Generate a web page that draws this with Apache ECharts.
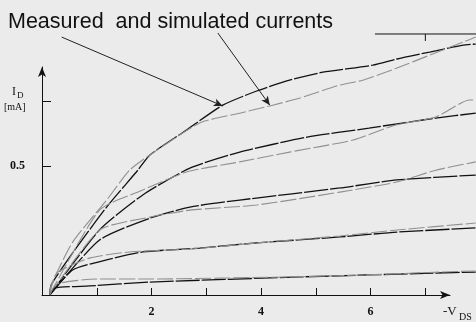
<!DOCTYPE html>
<html>
<head>
<meta charset="utf-8">
<script src="https://cdn.jsdelivr.net/npm/echarts@6/dist/echarts.min.js"></script>
<style>
html,body{margin:0;padding:0;background:#ebebeb;}
#c{width:476px;height:322px;}
</style>
</head>
<body>
<div id="c"></div>
<script>
// Measured (black) and simulated (gray) drain currents, [ -V_DS (V), I_D (mA) ]
const measured1 = [[0.14,0],[0.17,0.04],[0.56,0.163],[1.18,0.341],[1.75,0.484],[1.97,0.543],[2.64,0.64],[3.3,0.736],[3.92,0.791],[4.52,0.833],[5.13,0.864],[6.04,0.891],[6.48,0.915],[7.08,0.942],[7.69,0.969],[7.92,0.973]];
const simulated1 = [[0.14,0],[0.17,0.04],[0.56,0.205],[1.18,0.368],[1.6,0.484],[1.97,0.543],[2.88,0.667],[3.61,0.705],[4.16,0.733],[4.71,0.764],[5.44,0.814],[5.86,0.833],[6.48,0.88],[7.08,0.93],[7.69,0.981],[7.92,1.0]];
const measured2 = [[0.14,0],[1.05,0.252],[1.84,0.388],[2.7,0.492],[3.61,0.554],[4.84,0.612],[5.97,0.647],[7.19,0.686],[7.92,0.705]];
const simulated2 = [[0.14,0],[1.05,0.329],[1.84,0.407],[2.64,0.477],[3.61,0.516],[4.52,0.554],[5.68,0.601],[6.46,0.659],[7.19,0.69],[7.81,0.756],[7.92,0.756]];
const measured3 = [[0.14,0],[1.05,0.213],[1.97,0.298],[2.7,0.341],[3.61,0.368],[5.44,0.415],[6.48,0.446],[7.92,0.465]];
const simulated3 = [[0.14,0],[1.05,0.252],[1.97,0.302],[2.7,0.329],[3.92,0.349],[5.44,0.399],[6.48,0.438],[7.19,0.484],[7.92,0.516]];
const measured4 = [[0.14,0],[0.56,0.097],[1.18,0.136],[1.84,0.167],[2.88,0.182],[3.92,0.202],[5.44,0.225],[6.48,0.244],[7.92,0.26]];
const simulated4 = [[0.14,0],[0.27,0.085],[0.87,0.143],[1.6,0.167],[2.7,0.178],[3.92,0.202],[5.44,0.229],[6.48,0.252],[7.92,0.279]];
const measured5 = [[0.14,0],[0.23,0.027],[0.87,0.035],[1.97,0.05],[4.71,0.07],[7.14,0.085],[7.92,0.089]];
const simulated5 = [[0.14,0],[0.27,0.043],[1.01,0.062],[1.97,0.062],[4.47,0.07],[5.93,0.078],[7.27,0.089],[7.92,0.093]];

// fragment of an upper frame line with one tick
const frameLine = [[6.08,1.012],[7.93,1.012]];
const frameTick = [[7.0,1.012],[7.0,0.985]];

// annotation arrows: start -> end (data coordinates)
const arrowMeasured = [[0.36,1.0],[3.30,0.733]];
const arrowSimulated = [[3.21,1.016],[4.16,0.736]];

const xTicks = [1,2,3,4,5,6,7];
const xLabels = [2,4,6];
const yTicks = [0.5,0.75];
const yLabels = [0.5];

const titleText = 'Measured  and simulated currents';

const chart = echarts.init(document.getElementById('c'), null, {renderer:'canvas'});

const serif = '"Liberation Serif","DejaVu Serif",serif';

// visible axes grid: x 0..7.45, y 0..0.884
const axXMax = 7.45, axYMax = 0.884;
const g0 = {left:42, top:67, right:26, bottom:27};
const W = 476, H = 322;
const pxPerV = (W - g0.left - g0.right) / axXMax;
const pxPerI = (H - g0.top - g0.bottom) / axYMax;
// data grid: same scale, extends to the page edges
const g1 = {left:42, top:0, right:0, bottom:27};
const dXMax = (W - g1.left - g1.right) / pxPerV;
const dYMax = (H - g1.top - g1.bottom) / pxPerI;

function curve(name, data, color, dash, w) {
  return {
    name, type:'line', xAxisIndex:1, yAxisIndex:1, data, showSymbol:false, symbol:'none', clip:false, smooth:0.2,
    lineStyle:{color, width:w, type:dash}, z:3
  };
}

const blackDash = [24,2], grayDash = [16,3];
const series = [
  curve('m1', measured1, '#111', blackDash, 1.3),
  curve('s1', simulated1, '#909090', grayDash, 1.1),
  curve('m2', measured2, '#111', blackDash, 1.3),
  curve('s2', simulated2, '#909090', grayDash, 1.1),
  curve('m3', measured3, '#111', blackDash, 1.3),
  curve('s3', simulated3, '#909090', grayDash, 1.1),
  curve('m4', measured4, '#111', blackDash, 1.3),
  curve('s4', simulated4, '#909090', grayDash, 1.1),
  curve('m5', measured5, '#111', blackDash, 1.3),
  curve('s5', simulated5, '#909090', grayDash, 1.1),
  {type:'line', xAxisIndex:1, yAxisIndex:1, data:frameLine, symbol:'none', clip:false, lineStyle:{color:'#111', width:1}},
  {type:'line', xAxisIndex:1, yAxisIndex:1, data:frameTick, symbol:'none', clip:false, lineStyle:{color:'#111', width:1}},
  {type:'line', xAxisIndex:1, yAxisIndex:1, data:[], clip:false,
    markLine:{silent:true, animation:false, symbol:['none','arrow'], symbolSize:[6,9],
      label:{show:false}, emphasis:{disabled:true},
      lineStyle:{color:'#222', width:1, type:'solid'},
      data:[
        [{coord:arrowMeasured[0]},{coord:arrowMeasured[1]}],
        [{coord:arrowSimulated[0]},{coord:arrowSimulated[1]}]
      ]}}
];

chart.setOption({
  animation:false,
  backgroundColor:'#ebebeb',
  title:{text:titleText, left:3, top:6,
    textStyle:{fontFamily:'"Liberation Sans",Arial,sans-serif', fontSize:21.5, fontWeight:'normal', color:'#111'}},
  grid:[g0, g1],
  xAxis:[{gridIndex:0, type:'value', min:0, max:axXMax,
    axisLine:{show:true, lineStyle:{color:'#111', width:1}, symbol:['none','arrow'], symbolSize:[6,10]},
    axisTick:{show:true, inside:true, length:7, customValues:xTicks, lineStyle:{color:'#111'}},
    axisLabel:{customValues:xLabels, margin:11, color:'#111', fontFamily:serif, fontWeight:'bold', fontSize:12},
    splitLine:{show:false}},
    {gridIndex:1, type:'value', min:0, max:dXMax, show:false, splitLine:{show:false}}],
  yAxis:[{gridIndex:0, type:'value', min:0, max:axYMax,
    axisLine:{show:true, lineStyle:{color:'#111', width:1}, symbol:['none','arrow'], symbolSize:[6,10]},
    axisTick:{show:true, inside:true, length:9, customValues:yTicks, lineStyle:{color:'#111'}},
    axisLabel:{customValues:yLabels, margin:17, color:'#111', fontFamily:serif, fontWeight:'bold', fontSize:12},
    splitLine:{show:false}},
    {gridIndex:1, type:'value', min:0, max:dYMax, show:false, splitLine:{show:false}}],
  graphic:[
    {type:'text', left:12, top:86, style:{text:'I', font:'12px "Liberation Serif",serif', fill:'#111'}},
    {type:'text', left:17, top:91, style:{text:'D', font:'9px "Liberation Serif",serif', fill:'#111'}},
    {type:'text', left:4, top:102, style:{text:'[mA]', font:'10px "Liberation Serif",serif', fill:'#111'}},
    {type:'text', left:443, top:305, style:{text:'-V', font:'13px "Liberation Serif",serif', fill:'#111'}},
    {type:'text', left:459, top:312, style:{text:'DS', font:'10px "Liberation Serif",serif', fill:'#111'}}
  ],
  series
});
</script>
</body>
</html>
